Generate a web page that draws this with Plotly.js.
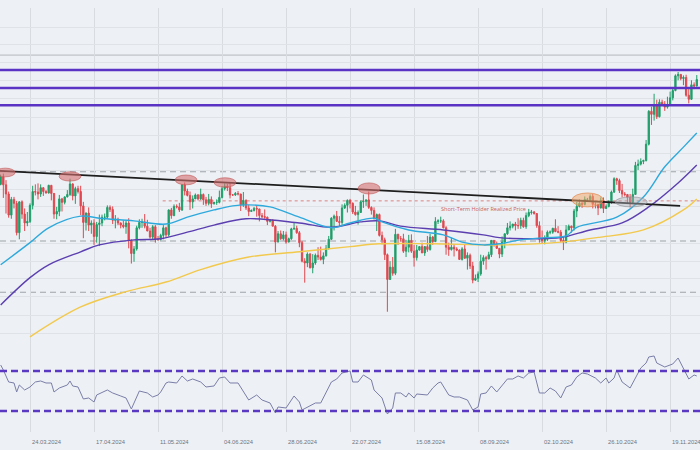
<!DOCTYPE html>
<html><head><meta charset="utf-8">
<script src="https://cdn.plot.ly/plotly-3.0.1.min.js"></script>
<style>html,body{margin:0;padding:0;background:#edf0f4}#chart{width:700px;height:450px}</style>
</head><body><div id="chart"></div>
<script>
// ---- data (prices in thousand USD) ----
const startDate = '2024-03-13';
const open = [71.5,73.1,71.4,69.5,65.3,68.4,67.6,62.0,67.9,65.5,
63.8,64.1,67.2,70.0,69.9,69.5,70.8,70.0,69.7,71.3,
69.6,65.5,66.0,68.5,67.8,68.9,69.4,71.6,69.1,70.6,
70.0,67.1,63.9,65.7,63.4,63.8,61.3,63.5,63.8,64.9,
64.9,66.8,66.4,64.3,64.5,63.8,63.4,63.1,63.8,60.6,
58.3,59.1,62.9,63.9,64.0,63.2,62.3,61.2,63.1,60.8,
60.8,61.5,62.9,61.6,66.3,65.2,67.0,66.9,66.3,71.4,
70.1,69.2,67.9,68.5,69.3,68.5,69.4,68.3,67.6,68.4,
67.5,67.8,67.8,68.8,70.6,71.1,70.8,69.3,69.3,69.6,
69.5,67.3,68.2,66.7,66.0,66.2,66.6,66.5,65.2,65.0,
64.9,64.1,64.3,63.2,60.3,61.8,60.9,61.6,60.3,60.9,
62.7,62.8,62.0,60.2,57.0,56.7,58.2,55.9,56.7,58.0,
57.7,57.3,57.9,59.2,60.8,64.7,65.1,64.1,63.9,66.7,
67.2,68.2,67.6,65.9,65.4,65.8,67.9,68.0,68.3,66.8,
66.2,64.6,65.4,61.5,60.7,58.1,54.0,56.0,55.0,61.7,
60.9,60.9,58.7,59.4,60.6,58.7,57.6,58.9,59.5,58.4,
59.5,59.0,61.2,60.4,64.1,64.2,64.2,62.9,59.4,59.0,
59.4,59.1,58.9,57.3,59.1,57.5,58.0,56.2,53.9,54.2,
54.9,57.0,57.6,57.4,58.1,60.6,60.0,59.2,58.2,60.3,
61.8,62.9,63.2,63.6,63.3,63.3,64.3,63.1,65.2,65.8,
65.9,65.6,63.3,60.8,60.6,60.8,62.1,62.1,62.8,62.2,
62.1,60.6,60.3,62.5,63.2,62.9,66.1,67.0,67.6,67.4,
68.4,68.4,69.0,67.4,67.4,66.7,68.2,66.6,67.0,67.9,
69.9,72.7,72.3,70.2,69.5,69.4,68.8,67.8,69.4,75.6,
75.9,76.5,76.7,80.5,88.7,87.9,90.5,87.3,91.1,90.6,
89.8,90.5,92.3,94.3,98.5,98.9,97.7,98.0,93.0,91.9,
95.9,95.6];
const high = [73.6,73.8,72.4,70.0,68.9,68.9,68.1,68.0,68.2,66.6,
65.9,67.6,71.2,71.5,71.7,71.5,70.9,70.3,71.4,71.3,
69.7,66.9,69.3,68.7,69.0,70.3,72.7,71.7,71.0,71.2,
71.2,67.9,65.8,66.8,64.3,64.5,64.0,65.4,65.4,65.6,
67.2,67.2,67.0,65.3,64.8,63.9,64.3,64.2,64.7,60.8,
59.6,63.3,64.5,64.6,65.5,64.4,62.9,63.4,63.4,61.4,
61.8,63.4,63.1,66.4,66.7,67.4,67.4,67.7,71.5,71.9,
70.6,70.0,69.2,69.6,69.5,70.6,69.6,68.9,69.5,69.0,
67.9,68.4,70.2,71.1,71.7,71.6,71.9,69.5,69.9,70.1,
69.5,69.9,68.4,67.3,66.4,66.9,67.2,66.5,65.7,66.4,
65.0,64.5,64.5,63.4,62.3,62.4,62.3,62.2,61.1,62.9,
63.8,63.3,62.3,60.5,57.5,58.5,58.4,58.2,58.3,59.4,
59.5,58.5,59.8,61.4,64.9,65.4,66.1,65.1,67.4,67.6,
68.4,68.5,67.8,67.1,66.2,68.2,69.4,68.3,70.0,67.0,
66.8,65.6,65.6,62.2,61.1,58.3,57.0,57.7,62.7,61.8,
61.4,61.8,60.7,61.6,61.7,59.8,59.8,59.6,60.2,59.6,
61.4,61.8,61.4,64.9,64.5,65.0,64.5,63.2,60.2,61.1,
59.9,59.4,59.0,59.4,59.8,58.5,58.3,56.9,54.8,55.3,
58.1,58.0,57.9,58.6,60.6,60.6,60.4,59.2,61.3,61.8,
63.8,64.1,63.6,64.0,64.7,64.8,64.8,65.8,66.5,66.3,
66.1,65.7,64.1,62.4,61.5,62.4,62.4,62.9,64.5,63.2,
62.5,61.3,63.4,63.5,63.3,66.5,67.9,68.4,68.0,69.0,
68.7,69.4,69.5,67.8,67.5,68.8,68.8,67.4,68.2,70.2,
73.0,72.9,72.7,71.6,69.9,69.4,69.5,70.6,76.4,76.9,
77.2,76.9,81.5,89.0,89.9,93.4,91.8,91.9,91.8,91.4,
92.6,94.0,94.9,98.9,99.6,98.9,98.6,98.8,94.7,97.2,
96.6,98.7];
const low = [71.3,68.7,65.6,64.8,64.6,66.6,61.5,60.8,64.6,62.3,
63.2,63.8,66.4,69.2,68.4,68.9,69.1,69.6,69.6,68.2,
64.6,64.5,65.1,66.0,67.4,68.8,69.1,68.2,67.5,69.6,
65.3,61.0,62.4,62.3,61.8,59.8,60.2,59.6,63.2,64.3,
64.6,65.9,63.6,62.8,63.4,62.8,62.8,61.8,59.2,56.6,
56.9,58.8,62.6,62.9,62.8,62.3,60.9,60.7,60.2,60.5,
60.6,60.8,61.1,61.3,64.6,65.1,66.6,65.9,66.1,69.2,
69.0,66.3,66.6,68.5,68.2,68.3,67.3,67.1,67.2,66.7,
67.4,67.3,67.6,68.6,70.2,70.1,68.6,69.1,69.1,69.2,
66.1,66.9,66.3,65.1,65.9,66.0,65.0,64.1,64.7,64.6,
63.4,63.9,63.2,58.5,60.3,60.7,60.6,60.0,60.3,60.7,
62.5,61.8,59.4,56.8,53.5,56.0,55.8,55.0,56.4,57.2,
57.1,56.5,57.8,59.0,60.7,62.4,64.0,63.2,63.3,66.5,
65.8,66.6,65.5,65.2,63.5,65.8,66.7,67.1,66.5,65.4,
64.5,62.3,61.3,59.9,57.2,49.1,54.0,54.6,54.7,59.8,
60.4,58.4,57.7,58.5,58.4,56.1,57.1,58.8,58.4,57.9,
58.6,58.8,59.8,60.3,63.6,63.8,62.8,58.1,57.9,58.8,
57.8,58.7,57.2,57.1,57.4,55.6,55.7,53.4,53.8,53.6,
54.6,56.4,55.6,57.3,57.7,59.5,59.1,57.5,57.7,59.2,
61.6,62.4,62.8,62.4,62.7,62.7,62.9,62.7,64.9,65.4,
65.4,62.9,60.2,60.1,59.9,60.5,61.7,61.8,62.1,61.9,
60.3,58.9,60.1,62.5,62.0,62.4,64.9,66.8,66.7,67.2,
68.0,68.1,66.6,66.6,65.3,66.6,65.7,66.5,66.8,67.5,
69.7,71.4,69.7,68.8,69.0,67.5,66.8,67.5,69.4,74.6,
75.6,75.9,76.5,80.2,85.2,86.3,86.7,87.1,90.1,88.8,
89.4,90.4,91.6,94.1,97.2,97.2,95.8,92.6,90.8,91.7,
94.7,95.4];
const close = [73.1,71.4,69.5,65.3,68.4,67.6,62.0,67.9,65.5,63.8,
64.1,67.2,70.0,69.9,69.5,70.8,70.0,69.7,71.3,69.6,
65.5,66.0,68.5,67.8,68.9,69.4,71.6,69.1,70.6,70.0,
67.1,63.9,65.7,63.4,63.8,61.3,63.5,63.8,64.9,64.9,
66.8,66.4,64.3,64.5,63.8,63.4,63.1,63.8,60.6,58.3,
59.1,62.9,63.9,64.0,63.2,62.3,61.2,63.1,60.8,60.8,
61.5,62.9,61.6,66.3,65.2,67.0,66.9,66.3,71.4,70.1,
69.2,67.9,68.5,69.3,68.5,69.4,68.3,67.6,68.4,67.5,
67.8,67.8,68.8,70.6,71.1,70.8,69.3,69.3,69.6,69.5,
67.3,68.2,66.7,66.0,66.2,66.6,66.5,65.2,65.0,64.9,
64.1,64.3,63.2,60.3,61.8,60.9,61.6,60.3,60.9,62.7,
62.8,62.0,60.2,57.0,56.7,58.2,55.9,56.7,58.0,57.7,
57.3,57.9,59.2,60.8,64.7,65.1,64.1,63.9,66.7,67.2,
68.2,67.6,65.9,65.4,65.8,67.9,68.0,68.3,66.8,66.2,
64.6,65.4,61.5,60.7,58.1,54.0,56.0,55.0,61.7,60.9,
60.9,58.7,59.4,60.6,58.7,57.6,58.9,59.5,58.4,59.5,
59.0,61.2,60.4,64.1,64.2,64.2,62.9,59.4,59.0,59.4,
59.1,58.9,57.3,59.1,57.5,58.0,56.2,53.9,54.2,54.9,
57.0,57.6,57.4,58.1,60.6,60.0,59.2,58.2,60.3,61.8,
62.9,63.2,63.6,63.3,63.3,64.3,63.1,65.2,65.8,65.9,
65.6,63.3,60.8,60.6,60.8,62.1,62.1,62.8,62.2,62.1,
60.6,60.3,62.5,63.2,62.9,66.1,67.0,67.6,67.4,68.4,
68.4,69.0,67.4,67.4,66.7,68.2,66.6,67.0,67.9,69.9,
72.7,72.3,70.2,69.5,69.4,68.8,67.8,69.4,75.6,75.9,
76.5,76.7,80.5,88.7,87.9,90.5,87.3,91.1,90.6,89.8,
90.5,92.3,94.3,98.5,98.9,97.7,98.0,93.0,91.9,95.9,
95.6,97.4];

// moving averages, sampled (day index from startDate, value)
const maFastDay = [0,11,18,30,37,50,62,70,80,87,93,101,112,124,131,140,143,153,166,173,181,187,195,204,212,216,231,241,249,256,261];
const maFastVal = [56.4,60.2,62.9,65.1,64.7,64.2,63.6,64.9,66.3,67.1,67.3,66.9,64.9,62.9,63.8,64.7,64.0,62.5,61.6,60.3,59.8,60.0,60.7,61.1,61.4,63.0,64.9,68.9,75.3,79.8,83.2];
const maMidDay = [0,11,18,30,37,50,60,70,80,92,112,124,135,142,150,166,181,187,199,210,221,233,243,254,261];
const maMidVal = [50.1,54.3,56.4,58.6,59.8,60.7,60.9,62.1,63.4,64.6,63.8,63.0,64.0,64.2,63.2,62.5,61.6,61.1,60.9,61.1,62.5,63.8,66.9,71.8,75.7];
const maSlowDay = [11,30,47,62,75,93,112,131,142,162,187,210,225,241,256,261];
const maSlowVal = [45.6,49.8,52.1,53.6,55.6,57.7,58.6,59.5,60.0,60.0,59.8,60.3,61.2,62.5,66.3,68.5];

// RSI, sampled
const rsiDay = [0,1,3,5,6,7,9,11,13,15,17,19,20,22,25,26,27,29,31,33,35,36,40,42,45,47,49,52,55,57,59,60,62,63,66,68,70,72,75,77,80,82,84,86,89,91,93,96,98,101,103,104,107,110,112,113,115,118,120,124,126,128,131,132,134,136,139,140,143,145,147,148,150,152,153,155,156,160,162,164,165,168,170,172,175,177,179,180,182,184,186,188,190,192,194,196,198,200,202,204,206,208,210,212,214,216,218,220,223,225,227,228,230,231,233,236,238,240,242,243,245,246,249,252,254,255,257,258,260,261];
const rsiVal = [76,71,59,58,49,56,51,54,59,60,58,58,49,53,56,60,55,54,42,43,39,46,51,48,45,43,32,50,48,44,46,49,58,59,58,65,60,62,59,54,55,63,64,58,58,49,41,46,41,38,28,34,33,45,39,31,34,38,38,59,62,68,70,59,59,66,61,51,43,27,33,48,48,44,48,43,47,46,53,58,59,46,44,44,41,31,34,47,48,55,49,56,62,62,65,63,68,69,48,48,53,50,43,54,56,64,68,67,63,58,63,58,63,71,59,53,63,73,78,84,85,78,74,77,83,78,68,62,66,65];
const rsiBands = [70, 30];

// price levels
const resistanceLevels = [100.2, 95.0, 90.3];
const supportLevels = [74.2, 60.5, 52.0];
const upperLevel = 104.7;
const sthRealizedPrice = 68.1;
const sthStart = '2024-05-12 18:00';
const sthLabel = 'Short-Term Holder Realized Price';
const trendStart = {date: '2024-03-12 18:00', price: 74.4};
const trendEnd = {date: '2024-11-22 18:00', price: 67.1};

// highlighted zones: [dateFrom, dateTo, priceLow, priceHigh, kind]
const zones = [
  ['2024-03-11 00:00','2024-03-18 10:00',73.1,75.0,'red'],
  ['2024-04-03 22:00','2024-04-12 02:00',72.2,74.2,'red'],
  ['2024-05-17 10:00','2024-05-25 14:00',71.4,73.5,'red'],
  ['2024-06-01 00:00','2024-06-09 06:00',70.9,72.9,'red'],
  ['2024-07-25 00:00','2024-08-02 06:00',69.5,71.8,'red'],
  ['2024-10-13 06:00','2024-10-24 21:00',66.9,69.7,'orange'],
  ['2024-10-29 10:00','2024-11-10 10:00',66.9,68.9,'grey']
];

// axis ticks
const tickDates = ['2024-03-24','2024-04-17','2024-05-11','2024-06-04','2024-06-28','2024-07-22','2024-08-15','2024-09-08','2024-10-02','2024-10-26','2024-11-19'];
const tickLabels = ['24.03.2024','17.04.2024','11.05.2024','04.06.2024','28.06.2024','22.07.2024','15.08.2024','08.09.2024','02.10.2024','26.10.2024','19.11.2024'];
const priceGrid = [113.7,107.9,102.3,97.0,92.0,87.2,82.7,78.4,74.4,70.5,66.9,63.4,60.1,57.0,54.1,51.3,48.6,46.1];

// ---- build ----
function dayToDate(i){
  const d = new Date(startDate + 'T00:00:00Z');
  d.setUTCDate(d.getUTCDate() + i);
  return d.toISOString().slice(0,10);
}
const dates = close.map((_, i) => dayToDate(i));

const traces = [
  {type:'scatter', mode:'lines', x:maSlowDay.map(dayToDate), y:maSlowVal, line:{color:'#f2c94c', width:1.4, shape:'spline'}, hoverinfo:'skip'},
  {type:'scatter', mode:'lines', x:maMidDay.map(dayToDate), y:maMidVal, line:{color:'#5b3fb0', width:1.4, shape:'spline'}, hoverinfo:'skip'},
  {type:'scatter', mode:'lines', x:maFastDay.map(dayToDate), y:maFastVal, line:{color:'#2ea9dc', width:1.4, shape:'spline'}, hoverinfo:'skip'},
  {type:'candlestick', x:dates, open:open, high:high, low:low, close:close,
   increasing:{line:{color:'#1f9e6a', width:1}, fillcolor:'#1f9e6a'},
   decreasing:{line:{color:'#e0474f', width:1}, fillcolor:'#e0474f'},
   whiskerwidth:0, hoverinfo:'skip'},
  {type:'scatter', mode:'lines', x:rsiDay.map(dayToDate), y:rsiVal, xaxis:'x', yaxis:'y2', line:{color:'#7a7ea8', width:1}, hoverinfo:'skip'}
];

const shapes = [];
shapes.push({type:'line', xref:'paper', x0:0, x1:1, yref:'y', y0:upperLevel, y1:upperLevel, line:{color:'#b5b9bf', width:1}, layer:'between'});
supportLevels.forEach(v => shapes.push({type:'line', xref:'paper', x0:0, x1:1, yref:'y', y0:v, y1:v, line:{color:'#9ea3aa', width:1.1, dash:'6px,4px'}, layer:'between'}));
shapes.push({type:'line', xref:'x', x0:sthStart, x1:'2024-11-30 05:00', yref:'y', y0:sthRealizedPrice, y1:sthRealizedPrice, line:{color:'#d98282', width:1, dash:'3px,3px'}, layer:'between'});
resistanceLevels.forEach(v => shapes.push({type:'line', xref:'paper', x0:0, x1:1, yref:'y', y0:v, y1:v, line:{color:'#5a32c4', width:2.4}}));
shapes.push({type:'line', xref:'x', yref:'y', x0:trendStart.date, y0:trendStart.price, x1:trendEnd.date, y1:trendEnd.price, line:{color:'#1e1e1e', width:1.8}});
const zoneStyle = {
  red:{fill:'rgba(214,112,112,0.6)', line:'rgba(190,85,85,0.6)'},
  orange:{fill:'rgba(242,168,110,0.55)', line:'rgba(225,135,75,0.7)'},
  grey:{fill:'rgba(175,178,182,0.45)', line:'rgba(140,143,148,0.6)'}
};
zones.forEach(z => shapes.push({type:'circle', xref:'x', yref:'y', x0:z[0], x1:z[1], y0:z[2], y1:z[3], fillcolor:zoneStyle[z[4]].fill, line:{color:zoneStyle[z[4]].line, width:1}}));
rsiBands.forEach(v => shapes.push({type:'line', xref:'paper', x0:0, x1:1, yref:'y2', y0:v, y1:v, line:{color:'#5b38c2', width:2.4, dash:'7px,4px'}}));

const annotations = tickDates.map((d, i) => ({
  xref:'x', yref:'paper', x:d, y:0.0178, xanchor:'left', yanchor:'middle', showarrow:false,
  text:tickLabels[i], font:{family:'Liberation Sans, Arial, sans-serif', size:5.8, color:'#6f747d'}
}));
annotations.push({xref:'x', yref:'y', x:'2024-09-09 22:00', y:Math.log10(66.5), text:sthLabel, showarrow:false,
  font:{family:'Open Sans, sans-serif', size:5.5, color:'#c9625c'}, xanchor:'center', yanchor:'middle'});

const layout = {
  width:700, height:450,
  margin:{l:0, r:0, t:0, b:0, pad:0},
  paper_bgcolor:'#edf0f4', plot_bgcolor:'#edf0f4',
  showlegend:false,
  xaxis:{type:'date', range:['2024-03-12 18:00','2024-11-30 05:00'], anchor:'y2',
    tickvals:tickDates, showticklabels:false,
    showgrid:true, gridcolor:'#d8dce1', gridwidth:1, zeroline:false, showline:false, ticks:'',
    rangeslider:{visible:false}, fixedrange:true},
  yaxis:{type:'log', domain:[0.24889,0.98222], range:[Math.log10(45.44), Math.log10(120.3)],
    tickvals:priceGrid, showticklabels:false, gridcolor:'#dfe3e8', gridwidth:1, zeroline:false, showline:false, ticks:'', fixedrange:true},
  yaxis2:{domain:[0.04,0.24889], range:[9,103], showgrid:false, showticklabels:false, zeroline:false, showline:false, ticks:'', fixedrange:true},
  shapes:shapes,
  annotations:annotations
};

Plotly.newPlot('chart', traces, layout, {staticPlot:true, displayModeBar:false});
</script>
</body></html>
